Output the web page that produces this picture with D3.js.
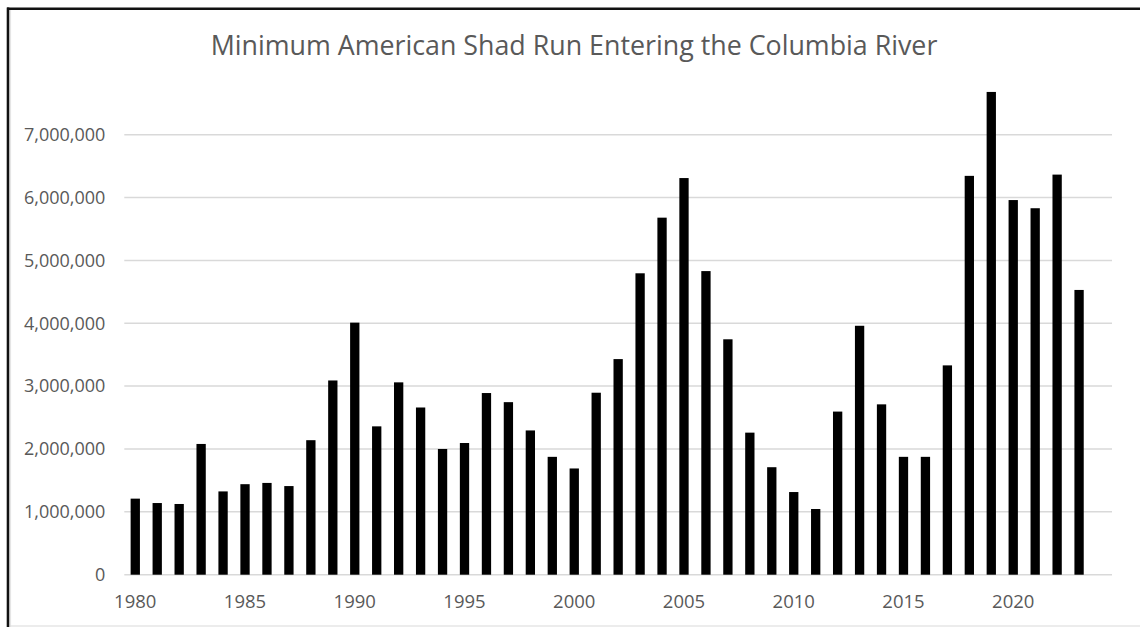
<!DOCTYPE html>
<html>
<head>
<meta charset="utf-8">
<script src="https://cdn.jsdelivr.net/npm/d3@7"></script>
<style>
	html, body { margin: 0; padding: 0; background: #fff; }
	svg { display: block; }
	text { font-family: "Open Sans", sans-serif; fill: #595959; }
</style>
</head>
<body>
<svg id="chart" width="1140" height="627"></svg>
<script>
// chart data
var titleText = "Minimum American Shad Run Entering the Columbia River";
var years = [1980, 1981, 1982, 1983, 1984, 1985, 1986, 1987, 1988, 1989,
	1990, 1991, 1992, 1993, 1994, 1995, 1996, 1997, 1998, 1999,
	2000, 2001, 2002, 2003, 2004, 2005, 2006, 2007, 2008, 2009,
	2010, 2011, 2012, 2013, 2014, 2015, 2016, 2017, 2018, 2019,
	2020, 2021, 2022, 2023, 2024];
var shadRun = [1210000, 1140000, 1125000, 2080000, 1325000, 1440000, 1460000, 1410000, 2140000, 3090000,
	4010000, 2360000, 3060000, 2660000, 2000000, 2095000, 2890000, 2745000, 2295000, 1875000,
	1690000, 2895000, 3430000, 4795000, 5680000, 6310000, 4830000, 3745000, 2260000, 1710000,
	1315000, 1045000, 2595000, 3960000, 2710000, 1875000, 1875000, 3330000, 6345000, 7680000,
	5960000, 5830000, 6365000, 4530000, null];
var yTicks = [0, 1000000, 2000000, 3000000, 4000000, 5000000, 6000000, 7000000];
var xTickLabels = [1980, 1985, 1990, 1995, 2000, 2005, 2010, 2015, 2020];

var W = 1140, H = 627;
var plot = {left: 124.3, right: 1112, top: 84.4, bottom: 574.7};

var svg = d3.select("#chart");

// frame: dark border top and left, faint line at the bottom
svg.append("line")
	.attr("x1", 7).attr("y1", 8.7).attr("x2", W).attr("y2", 8.7)
	.attr("stroke", "#111").attr("stroke-width", 2.6);
svg.append("line")
	.attr("x1", 8).attr("y1", 7.4).attr("x2", 8).attr("y2", H)
	.attr("stroke", "#111").attr("stroke-width", 2.6);
svg.append("line")
	.attr("x1", 10.6).attr("y1", 10).attr("x2", 10.6).attr("y2", H)
	.attr("stroke", "#e3e3e3").attr("stroke-width", 1);
svg.append("line")
	.attr("x1", 10).attr("y1", 626).attr("x2", W).attr("y2", 626)
	.attr("stroke", "#d9d9d9").attr("stroke-width", 1.2);

var x = d3.scaleBand()
	.domain(years)
	.range([plot.left, plot.right])
	.paddingInner(0.576)
	.paddingOuter(0.288);

var y = d3.scaleLinear()
	.domain([0, 7800000])
	.range([plot.bottom, plot.top]);

// gridlines
svg.append("g")
	.attr("class", "grid")
	.selectAll("line")
	.data(yTicks)
	.enter()
	.append("line")
	.attr("x1", plot.left)
	.attr("x2", plot.right)
	.attr("y1", function(d) {return y(d);})
	.attr("y2", function(d) {return y(d);})
	.attr("stroke", "#d9d9d9")
	.attr("stroke-width", 1.5);

// y axis labels
var yAxis = d3.axisLeft(y)
	.tickValues(yTicks)
	.tickSize(0)
	.tickPadding(19)
	.tickFormat(d3.format(","));
var yG = svg.append("g")
	.attr("transform", "translate(" + plot.left + ",0)")
	.call(yAxis);
yG.select(".domain").remove();
yG.selectAll("text")
	.style("font-size", "18px")
	.attr("fill", "#595959");

// x axis labels
var xAxis = d3.axisBottom(x)
	.tickValues(xTickLabels)
	.tickSize(0)
	.tickPadding(20);
var xG = svg.append("g")
	.attr("transform", "translate(0," + plot.bottom + ")")
	.call(xAxis);
xG.select(".domain").remove();
xG.selectAll("text")
	.style("font-size", "18.5px")
	.attr("fill", "#595959");

// bars
svg.append("g")
	.selectAll("rect")
	.data(years.map(function(yr, i) {return {year: yr, value: shadRun[i]};})
		.filter(function(d) {return d.value != null;}))
	.enter()
	.append("rect")
	.attr("x", function(d) {return x(d.year);})
	.attr("y", function(d) {return y(d.value);})
	.attr("width", x.bandwidth())
	.attr("height", function(d) {return plot.bottom - y(d.value);})
	.attr("fill", "#000");

// title
svg.append("text")
	.attr("x", 574)
	.attr("y", 55)
	.attr("text-anchor", "middle")
	.style("font-size", "26.8px")
	.text(titleText);
</script>
</body>
</html>
